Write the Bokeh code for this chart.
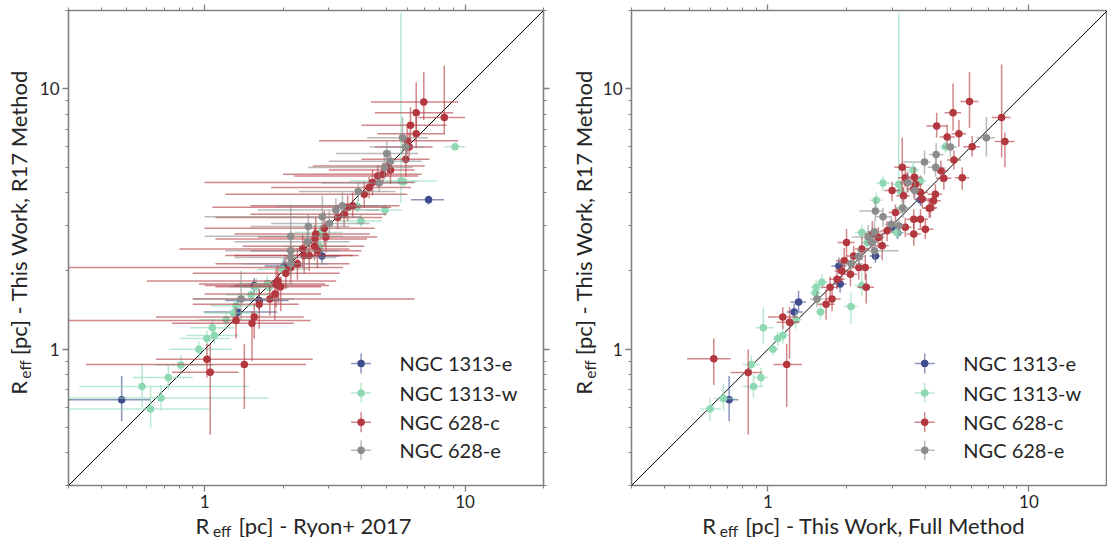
import math
from bokeh.plotting import figure
from bokeh.models import (FixedTicker, BasicTickFormatter, CustomJSTickFormatter, LogAxis,
                          Range1d, LinearScale)
from bokeh.layouts import row, column
from bokeh.core.properties import value
from bokeh.embed import file_html
from bokeh.resources import INLINE

# ---------------- data ----------------
SERIES = ["NGC 1313-e", "NGC 1313-w", "NGC 628-c", "NGC 628-e"]
COLORS = ["#3f4c8e", "#8ed8b4", "#b2373e", "#8c8c8c"]
AX_RANGE = [0.3, 20]
MAJOR_TICKS = [1, 10]
MINOR_TICKS = [0.3, 0.4, 0.5, 0.6, 0.7, 0.8, 0.9, 2, 3, 4, 5, 6, 7, 8, 9, 20]
X_LABELS = ["[pc] - Ryon+ 2017", "[pc] - This Work, Full Method"]
Y_LABEL = "[pc] - This Work, R17 Method"

# rows: (x, y, x_low, x_high, y_low, y_high)   -- left panel: x = Ryon+ 2017
left_1313e = [
    (0.48, 0.64, 0.30, 0.62, 0.53, 0.79),
    (1.34, 1.39, 0.99, 1.90, 1.25, 1.55),
    (1.62, 1.54, 1.20, 2.10, 1.42, 1.68),
    (1.55, 1.76, 1.30, 1.85, 1.65, 1.88),
    (2.02, 2.09, 1.70, 2.40, 1.95, 2.25),
    (2.82, 2.28, 2.40, 3.30, 2.12, 2.45),
    (7.24, 3.75, 6.20, 8.30, 3.60, 3.90),
]
left_1313w = [
    (0.575, 0.72, 0.33, 1.48, 0.60, 0.88),
    (0.62, 0.59, 0.30, 1.04, 0.50, 0.72),
    (0.68, 0.65, 0.30, 1.76, 0.58, 0.73),
    (0.725, 0.78, 0.53, 0.90, 0.70, 0.87),
    (0.81, 0.87, 0.65, 1.08, 0.80, 0.95),
    (0.95, 1.00, 0.73, 1.27, 0.93, 1.07),
    (1.02, 1.10, 0.80, 1.25, 1.03, 1.18),
    (1.09, 1.13, 0.85, 1.35, 1.05, 1.22),
    (1.07, 1.21, 0.88, 1.30, 1.13, 1.30),
    (1.21, 1.30, 0.95, 1.55, 1.22, 1.40),
    (1.29, 1.38, 1.00, 1.60, 1.30, 1.48),
    (1.32, 1.47, 1.05, 1.65, 1.38, 1.58),
    (1.51, 1.62, 1.20, 1.90, 1.52, 1.75),
    (1.58, 1.74, 1.25, 2.00, 1.62, 1.88),
    (1.74, 1.79, 1.35, 2.20, 1.68, 1.92),
    (1.77, 1.73, 1.40, 2.10, 1.62, 1.85),
    (1.99, 2.03, 1.60, 2.50, 1.90, 2.20),
    (2.77, 2.48, 2.00, 3.50, 2.30, 2.65),
    (2.79, 2.81, 2.20, 3.40, 2.65, 3.00),
    (3.86, 3.54, 3.20, 4.60, 3.35, 3.75),
    (3.98, 3.11, 3.30, 4.80, 2.95, 3.30),
    (4.93, 3.43, 4.20, 5.70, 3.25, 3.60),
    (5.67, 4.43, 3.60, 7.80, 3.65, 19.5),
    (5.80, 4.40, 5.00, 6.50, 4.20, 4.60),
    (9.15, 6.00, 8.30, 10.0, 5.80, 6.20),
]
left_628c = [
    (1.02, 0.915, 0.65, 2.60, 0.78, 1.05),
    (1.05, 0.816, 0.75, 1.35, 0.47, 1.05),
    (1.42, 0.874, 0.35, 2.45, 0.59, 1.05),
    (1.32, 1.29, 0.30, 2.55, 1.10, 1.45),
    (1.52, 1.26, 0.75, 2.20, 0.90, 1.40),
    (1.55, 1.33, 0.65, 2.40, 1.10, 1.50),
    (1.62, 1.49, 0.90, 2.30, 1.20, 1.70),
    (1.78, 1.56, 0.90, 6.40, 1.35, 1.75),
    (1.86, 1.63, 1.00, 2.80, 1.30, 1.80),
    (1.92, 1.76, 1.00, 3.00, 1.50, 1.95),
    (1.88, 1.78, 0.95, 2.90, 1.45, 2.05),
    (1.96, 1.74, 1.10, 2.80, 1.40, 1.90),
    (1.91, 1.83, 0.60, 3.20, 1.55, 2.10),
    (2.05, 1.96, 0.90, 3.30, 1.70, 2.30),
    (2.14, 2.06, 0.30, 3.40, 1.80, 2.30),
    (2.27, 2.13, 1.10, 3.60, 1.85, 2.45),
    (2.41, 2.29, 1.20, 3.70, 1.95, 2.60),
    (2.52, 2.29, 1.30, 3.90, 2.00, 2.55),
    (2.38, 2.43, 0.80, 3.60, 2.10, 2.75),
    (2.64, 2.49, 1.40, 4.10, 2.20, 2.90),
    (2.71, 2.39, 1.50, 4.00, 2.05, 2.70),
    (2.65, 2.65, 1.10, 4.20, 2.30, 3.00),
    (2.67, 2.77, 1.30, 4.30, 2.45, 3.20),
    (2.92, 2.70, 1.60, 4.60, 2.35, 3.10),
    (2.88, 2.92, 1.00, 4.50, 2.50, 3.40),
    (3.24, 3.21, 1.10, 4.80, 2.90, 3.60),
    (3.43, 3.30, 1.50, 5.00, 2.95, 3.60),
    (3.54, 3.51, 1.07, 5.20, 3.10, 3.90),
    (3.70, 3.56, 1.50, 5.60, 3.20, 4.00),
    (4.10, 3.94, 1.20, 6.00, 3.50, 4.40),
    (4.28, 4.18, 1.80, 6.20, 3.80, 4.60),
    (4.41, 4.37, 1.00, 6.40, 3.90, 4.90),
    (4.62, 4.63, 2.20, 6.60, 4.20, 5.10),
    (4.83, 4.70, 2.00, 6.80, 4.30, 5.20),
    (5.05, 5.06, 2.60, 7.00, 4.60, 5.60),
    (5.17, 4.88, 3.00, 6.40, 4.30, 5.50),
    (5.92, 5.37, 4.00, 7.30, 4.60, 6.20),
    (6.10, 5.98, 4.50, 7.50, 5.50, 6.80),
    (5.99, 6.32, 2.75, 9.40, 5.60, 7.30),
    (6.49, 6.72, 4.60, 8.30, 5.90, 7.80),
    (6.17, 7.25, 4.00, 8.50, 6.30, 8.50),
    (6.49, 8.10, 4.50, 9.00, 7.00, 10.6),
    (6.94, 8.91, 4.35, 9.40, 7.60, 11.6),
    (8.32, 7.77, 6.60, 10.0, 6.70, 12.3),
]
left_628e = [
    (1.38, 1.56, 0.90, 2.20, 1.30, 2.00),
    (2.14, 2.13, 1.40, 3.00, 1.90, 2.40),
    (2.14, 2.25, 1.30, 3.20, 2.00, 2.50),
    (2.14, 2.39, 1.20, 3.30, 2.10, 2.70),
    (2.14, 2.72, 1.00, 3.40, 2.30, 3.60),
    (2.48, 2.59, 1.30, 3.60, 2.30, 2.90),
    (2.50, 2.96, 1.50, 3.60, 2.60, 3.30),
    (2.83, 3.23, 1.00, 4.00, 2.90, 3.90),
    (3.01, 3.04, 1.80, 4.30, 2.75, 3.40),
    (3.19, 3.43, 1.60, 4.70, 3.10, 3.80),
    (3.38, 3.56, 1.90, 4.90, 3.20, 4.00),
    (3.89, 4.04, 2.30, 5.40, 3.70, 4.40),
    (4.68, 4.35, 2.80, 6.00, 4.00, 4.80),
    (4.90, 4.99, 2.50, 6.30, 4.50, 5.50),
    (5.00, 5.65, 3.20, 6.60, 5.10, 6.30),
    (5.17, 5.27, 3.00, 6.80, 4.80, 5.80),
    (5.75, 6.49, 4.20, 7.20, 5.60, 7.80),
    (5.92, 5.98, 4.30, 7.00, 5.30, 6.60),
]

# right panel: x = This Work, Full Method
right_1313e = [
    (0.71, 0.64, 0.66, 0.77, 0.53, 0.79),
    (1.26, 1.39, 1.18, 1.36, 1.28, 1.50),
    (1.31, 1.52, 1.22, 1.40, 1.40, 1.68),
    (1.87, 2.09, 1.75, 2.00, 1.95, 2.25),
    (1.89, 1.78, 1.78, 2.00, 1.65, 1.90),
    (2.58, 2.28, 2.45, 2.70, 2.15, 2.40),
    (2.99, 2.94, 2.85, 3.15, 2.80, 3.10),
    (3.14, 2.80, 3.00, 3.30, 2.65, 2.95),
    (3.84, 3.75, 3.65, 4.05, 3.55, 3.95),
]
right_1313w = [
    (0.60, 0.59, 0.55, 0.66, 0.53, 0.65),
    (0.675, 0.647, 0.62, 0.75, 0.58, 0.74),
    (0.863, 0.874, 0.80, 0.93, 0.80, 0.95),
    (0.88, 0.72, 0.80, 0.96, 0.65, 0.80),
    (0.94, 0.78, 0.88, 1.00, 0.72, 0.85),
    (0.96, 1.21, 0.90, 1.05, 1.05, 1.45),
    (1.045, 1.00, 1.00, 1.10, 0.95, 1.06),
    (1.09, 1.10, 1.05, 1.13, 1.03, 1.17),
    (1.14, 1.13, 1.10, 1.20, 1.05, 1.22),
    (1.28, 1.30, 1.22, 1.35, 1.20, 1.40),
    (1.52, 1.65, 1.45, 1.60, 1.55, 1.78),
    (1.53, 1.73, 1.46, 1.60, 1.63, 1.85),
    (1.59, 1.39, 1.52, 1.66, 1.30, 1.50),
    (1.61, 1.81, 1.54, 1.70, 1.70, 1.95),
    (2.08, 1.46, 1.95, 2.20, 1.25, 1.65),
    (2.29, 1.76, 2.15, 2.45, 1.60, 2.10),
    (2.29, 2.81, 2.15, 2.45, 2.65, 3.00),
    (2.40, 2.57, 2.28, 2.55, 2.40, 2.75),
    (2.60, 3.74, 2.45, 2.75, 3.50, 4.00),
    (2.76, 4.35, 2.60, 2.95, 4.05, 4.65),
    (3.12, 2.81, 2.95, 3.30, 2.65, 3.00),
    (3.17, 4.30, 3.00, 3.35, 4.05, 19.5),
    (3.22, 4.04, 3.05, 3.40, 3.80, 4.30),
    (3.27, 3.50, 3.10, 3.45, 3.30, 3.70),
    (3.60, 4.88, 3.40, 3.80, 4.60, 5.20),
    (3.84, 4.43, 3.65, 4.05, 4.20, 4.70),
    (4.79, 6.00, 4.55, 5.05, 5.70, 6.30),
]
right_628c = [
    (0.62, 0.92, 0.49, 0.72, 0.73, 1.10),
    (0.84, 0.815, 0.72, 0.95, 0.47, 1.00),
    (1.18, 0.874, 1.05, 1.35, 0.60, 1.05),
    (1.14, 1.33, 1.00, 1.30, 1.20, 1.45),
    (1.21, 1.27, 1.08, 1.32, 0.92, 1.45),
    (1.67, 1.49, 1.55, 1.80, 1.30, 1.70),
    (1.76, 1.56, 1.65, 1.90, 1.40, 1.75),
    (1.73, 1.73, 1.60, 1.85, 1.55, 1.90),
    (1.84, 1.86, 1.72, 1.97, 1.70, 2.05),
    (1.92, 2.00, 1.80, 2.05, 1.80, 2.20),
    (2.07, 1.94, 1.95, 2.20, 1.75, 2.10),
    (2.00, 2.57, 1.85, 2.15, 2.20, 2.90),
    (1.96, 2.19, 1.82, 2.10, 1.95, 2.45),
    (2.13, 2.28, 2.00, 2.27, 2.05, 2.50),
    (2.23, 2.06, 2.10, 2.38, 1.85, 2.30),
    (2.36, 2.06, 2.20, 2.50, 1.85, 2.30),
    (2.29, 2.43, 2.15, 2.45, 2.20, 2.70),
    (2.38, 1.73, 2.20, 2.55, 1.50, 1.95),
    (2.51, 2.77, 2.35, 2.70, 2.45, 3.10),
    (2.65, 2.69, 2.50, 2.80, 2.45, 2.95),
    (2.74, 2.50, 2.55, 2.90, 2.20, 2.80),
    (2.86, 2.85, 2.70, 3.00, 2.60, 3.10),
    (3.08, 3.35, 2.90, 3.25, 3.10, 3.60),
    (3.36, 2.94, 3.15, 3.55, 2.70, 3.20),
    (3.31, 3.89, 3.10, 3.50, 3.60, 4.20),
    (2.99, 4.07, 2.80, 3.20, 3.70, 4.40),
    (3.27, 5.00, 3.05, 3.50, 3.70, 6.50),
    (3.42, 4.37, 3.20, 3.65, 4.00, 4.80),
    (3.62, 4.14, 3.40, 3.85, 3.80, 4.50),
    (3.68, 4.30, 3.45, 3.90, 3.95, 4.65),
    (3.84, 4.00, 3.60, 4.10, 3.70, 4.30),
    (3.90, 3.78, 3.65, 4.15, 3.50, 4.10),
    (3.62, 3.16, 3.40, 3.85, 2.90, 3.45),
    (3.84, 3.16, 3.60, 4.10, 2.90, 3.45),
    (4.01, 2.89, 3.75, 4.30, 2.65, 3.15),
    (3.62, 2.77, 3.40, 3.85, 2.50, 3.05),
    (4.19, 3.50, 3.95, 4.45, 3.20, 3.80),
    (4.31, 3.72, 4.05, 4.60, 3.40, 4.05),
    (3.36, 4.56, 3.15, 3.60, 4.20, 4.95),
    (3.64, 4.58, 3.40, 3.90, 4.20, 5.00),
    (4.38, 3.94, 4.10, 4.65, 3.60, 4.30),
    (4.15, 3.48, 3.90, 4.40, 3.20, 3.80),
    (4.60, 4.85, 4.30, 4.90, 4.40, 5.30),
    (4.72, 4.54, 4.40, 5.05, 4.10, 5.00),
    (5.55, 4.56, 5.20, 5.90, 4.10, 5.00),
    (5.16, 5.33, 4.85, 5.50, 4.90, 5.80),
    (4.86, 6.54, 4.55, 5.20, 5.90, 7.30),
    (5.39, 6.72, 5.05, 5.75, 6.00, 7.60),
    (6.06, 6.00, 5.60, 6.50, 5.50, 6.60),
    (4.43, 7.20, 4.05, 4.85, 6.50, 8.10),
    (5.12, 8.10, 4.75, 5.50, 6.90, 10.5),
    (5.92, 8.94, 5.46, 6.40, 7.10, 11.6),
    (7.86, 7.77, 7.20, 8.50, 5.45, 12.4),
    (8.09, 6.28, 7.40, 8.80, 5.00, 6.80),
]
right_628e = [
    (1.54, 1.56, 1.45, 1.63, 1.45, 1.67),
    (2.08, 2.13, 1.85, 2.30, 2.00, 2.28),
    (2.23, 2.27, 2.10, 2.37, 2.10, 2.45),
    (2.42, 2.70, 2.10, 2.75, 2.50, 3.00),
    (2.51, 2.57, 2.35, 2.65, 2.40, 2.80),
    (2.56, 2.83, 2.40, 2.72, 2.60, 3.10),
    (2.56, 2.39, 2.20, 3.17, 2.20, 2.60),
    (2.58, 3.40, 2.24, 2.75, 3.10, 3.80),
    (2.76, 3.23, 2.60, 2.95, 2.95, 3.50),
    (2.97, 3.02, 2.80, 3.15, 2.80, 3.25),
    (3.17, 2.98, 3.00, 3.35, 2.75, 3.20),
    (3.29, 3.48, 3.10, 3.50, 3.20, 3.80),
    (3.44, 4.37, 3.25, 3.65, 4.00, 4.80),
    (3.65, 4.07, 3.45, 3.85, 3.75, 4.40),
    (3.98, 5.24, 3.30, 4.20, 4.70, 5.80),
    (4.41, 5.60, 4.15, 4.70, 5.10, 6.20),
    (4.39, 5.00, 4.10, 4.65, 4.60, 5.50),
    (5.00, 5.98, 4.70, 5.30, 5.50, 6.50),
    (6.87, 6.49, 6.30, 7.40, 5.50, 7.80),
]

LEFT_DATA = [left_1313e, left_1313w, left_628c, left_628e]
RIGHT_DATA = [right_1313e, right_1313w, right_628c, right_628e]

# ---------------- styling ----------------
FONT = "Lato"
TXT = "#262626"
GRAY = "#808080"
H_MAIN = 515      # main figure height; axis-title strip below it
H_XLAB = 22
BASE_FIX = 0.38   # bokeh's alphabetic anchor sits ~0.38em low


def style_axis(ax, labels=True):
    ax.ticker = FixedTicker(ticks=MAJOR_TICKS, minor_ticks=MINOR_TICKS)
    ax.formatter = BasicTickFormatter() if labels else CustomJSTickFormatter(code="return ''")
    ax.axis_line_color = None
    ax.major_tick_line_color = GRAY
    ax.minor_tick_line_color = GRAY
    ax.major_tick_line_width = 1.3
    ax.minor_tick_line_width = 1.0
    ax.major_tick_in = 0
    ax.major_tick_out = 6
    ax.minor_tick_in = 0
    ax.minor_tick_out = 3
    ax.major_label_text_font = FONT
    ax.major_label_text_font_size = "17px"
    ax.major_label_text_color = TXT
    ax.major_label_standoff = 3 if labels else 0


def text_strip(w, h):
    f = figure(width=w, height=h, x_range=Range1d(0, w), y_range=Range1d(0, h),
               output_backend="svg", toolbar_location=None,
               x_axis_location=None, y_axis_location=None, min_border=0)
    f.grid.visible = False
    f.outline_line_color = None
    return f


def sub_label(f, x, y, rest, angle):
    # "R" + subscript "eff" + rest of the title
    c, s = math.cos(angle), math.sin(angle)
    pieces = [("R", 0.0, 0.0, 22), ("eff", 17.5, -3.3, 15.5), (rest, 43.0, 0.0, 22)]
    for txt, dx, dy, fs in pieces:
        dy2 = dy + BASE_FIX * fs
        f.text(x=[x + dx * c - dy2 * s], y=[y + dx * s + dy2 * c], text=[txt], angle=angle,
               text_font=value(FONT), text_font_size=f"{fs}px", text_color=TXT,
               text_baseline="alphabetic", text_align="left")


def make_panel(data, width, border_left, border_right, right_axis):
    p = figure(width=width, height=H_MAIN, x_axis_type="log", y_axis_type="log",
               x_range=Range1d(*AX_RANGE), y_range=Range1d(*AX_RANGE),
               output_backend="svg", toolbar_location=None,
               min_border_left=border_left, min_border_right=border_right,
               min_border_top=10, min_border_bottom=30)
    p.grid.visible = False
    p.outline_line_color = GRAY
    p.outline_line_width = 1.6
    for ax in p.xaxis + p.yaxis:
        style_axis(ax, True)
    top = LogAxis()
    style_axis(top, False)
    p.add_layout(top, "above")
    if right_axis:
        r = LogAxis()
        style_axis(r, False)
        p.add_layout(r, "right")

    p.extra_x_ranges = {"f": Range1d(0, 1)}
    p.extra_y_ranges = {"f": Range1d(0, 1)}
    p.extra_x_scales = {"f": LinearScale()}
    p.extra_y_scales = {"f": LinearScale()}

    # one-to-one line
    p.line(x=AX_RANGE, y=AX_RANGE, line_color="black", line_width=1)

    for rows, col in zip(data, COLORS):
        xs = [r[0] for r in rows]
        ys = [r[1] for r in rows]
        xl = [r[2] for r in rows]
        xh = [r[3] for r in rows]
        yl = [r[4] for r in rows]
        yh = [r[5] for r in rows]
        p.segment(x0=xl, y0=ys, x1=xh, y1=ys, line_color=col, line_alpha=0.6, line_width=1.5)
        p.segment(x0=xs, y0=yl, x1=xs, y1=yh, line_color=col, line_alpha=0.6, line_width=1.5)
        p.scatter(x=xs, y=ys, size=7.5, fill_color=col, line_color=col, line_width=0)

    # legend (frame-fraction coordinates)
    lx, tx, hw = 0.616, 0.697, 0.021
    ly = [0.257, 0.195, 0.133, 0.074]
    p.segment(x0=[lx - hw] * 4, x1=[lx + hw] * 4, y0=ly, y1=ly, line_color=COLORS,
              line_alpha=0.6, line_width=1.5, x_range_name="f", y_range_name="f")
    p.segment(x0=[lx] * 4, x1=[lx] * 4, y0=[v - hw for v in ly], y1=[v + hw for v in ly],
              line_color=COLORS, line_alpha=0.6, line_width=1.5, x_range_name="f", y_range_name="f")
    p.scatter(x=[lx] * 4, y=ly, size=7.5, fill_color=COLORS, line_color=COLORS, line_width=0,
              x_range_name="f", y_range_name="f")
    p.text(x=[tx] * 4, y=ly, text=SERIES, text_font=value(FONT), text_font_size="20px",
           text_color=TXT, text_baseline="middle", text_align="left",
           x_range_name="f", y_range_name="f")
    return p


# left group (x 0..560), right group (x 560..1107)
p1 = make_panel(LEFT_DATA, 525, 33, 17, True)
p2 = make_panel(RIGHT_DATA, 509, 33, 0, False)

y1 = text_strip(35, H_MAIN)
sub_label(y1, 26.7, H_MAIN - 416.7, Y_LABEL, math.pi / 2)
y2 = text_strip(38, H_MAIN)
sub_label(y2, 31.7, H_MAIN - 416.7, Y_LABEL, math.pi / 2)

x1 = text_strip(560, H_XLAB)
sub_label(x1, 195, 4.0, X_LABELS[0], 0.0)
x2 = text_strip(547, H_XLAB)
sub_label(x2, 141.7, 4.0, X_LABELS[1], 0.0)

layout = row(column(row(y1, p1), x1), column(row(y2, p2), x2))
open("out.html", "w").write(file_html(layout, INLINE))
